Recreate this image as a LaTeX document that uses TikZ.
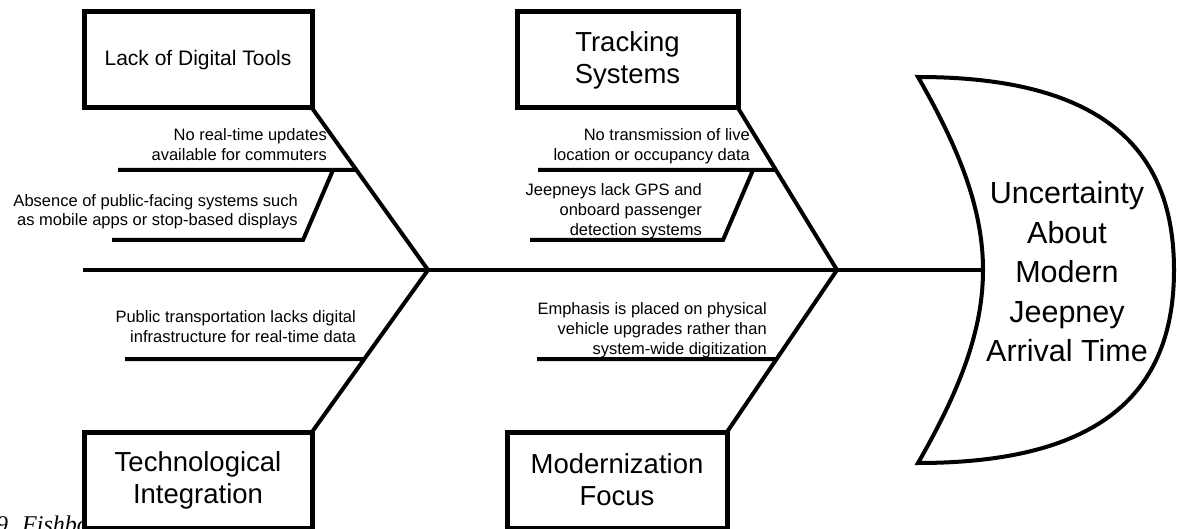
\documentclass[tikz,border=0pt]{standalone}
\usepackage{fontspec}
\setmainfont{Liberation Sans}
\newfontfamily\capfont{Liberation Serif}
\usetikzlibrary{calc}

\begin{document}
\begin{tikzpicture}[x=1pt,y=-1pt,
  causebox/.style={draw, line width=5pt, fill=white, inner sep=0pt, outer sep=0pt,
    minimum height=96pt, align=center, font=\fontsize{27.5}{32}\selectfont},
  bone/.style={line width=4pt},
  note/.style={anchor=base east, inner sep=0pt, font=\fontsize{16.5}{20}\selectfont},
]
\useasboundingbox (0,0) rectangle (1177,529);

% caption fragment peeking out below the diagram
\node[anchor=base west, inner sep=0pt, font=\capfont\itshape\fontsize{24}{28}\selectfont]
  (caption) at (-4,532) {9. Fishbo};

% spine joints and ends
\coordinate (tail) at (83,270);
\coordinate (j1) at (428,270);
\coordinate (j2) at (837,270);
\coordinate (hin) at (983,270);

% cause boxes
\node[causebox, minimum width=228pt, font=\fontsize{21}{25}\selectfont] (digital) at (198,60) {Lack of Digital Tools};
\node[causebox, minimum width=221pt] (tracking) at (627.5,60) {Tracking\\Systems};
\node[causebox, minimum width=228pt] (integration) at (198,480) {Technological\\Integration};
\node[causebox, minimum width=220pt] (modern) at (617,480) {Modernization\\Focus};

% spine and main bones
\draw[bone] (tail) -- (hin);
\draw[bone] (digital.south east) -- (j1) -- (integration.north east);
\draw[bone] (tracking.south east) -- (j2) -- (modern.north east);

% sub-causes: Lack of Digital Tools
\coordinate (d1) at (118,170);
\coordinate (d2s) at (333,170);
\coordinate (d2k) at (303,240);
\coordinate (d2e) at (112,240);
\draw[bone] (d1) -- ($(digital.south east)!0.3827!(j1)$);
\draw[bone] (d2s) -- (d2k) -- (d2e);
\node[note] (d1t) at (327,161) {\begin{tabular}[b]{@{}r@{}}No real-time updates\\available for commuters\end{tabular}};
\node[note] (d2t) at (298,226) {\begin{tabular}[b]{@{}r@{}}Absence of public-facing systems such\\as mobile apps or stop-based displays\end{tabular}};

% sub-causes: Tracking Systems
\coordinate (t1) at (538,170);
\coordinate (t2s) at (753,170);
\coordinate (t2k) at (723,240);
\coordinate (t2e) at (530,240);
\draw[bone] (t1) -- ($(tracking.south east)!0.3827!(j2)$);
\draw[bone] (t2s) -- (t2k) -- (t2e);
\node[note] (t1t) at (750,161) {\begin{tabular}[b]{@{}r@{}}No transmission of live\\location or occupancy data\end{tabular}};
\node[note] (t2t) at (702,236) {\begin{tabular}[b]{@{}r@{}}Jeepneys lack GPS and\\onboard passenger\\detection systems\end{tabular}};

% sub-causes: Technological Integration
\coordinate (i1) at (125,359);
\draw[bone] (i1) -- ($(integration.north east)!0.4506!(j1)$);
\node[note] (i1t) at (356,342) {\begin{tabular}[b]{@{}r@{}}Public transportation lacks digital\\infrastructure for real-time data\end{tabular}};

% sub-causes: Modernization Focus
\coordinate (m1) at (537,359);
\draw[bone] (m1) -- ($(modern.north east)!0.4506!(j2)$);
\node[note] (m1t) at (767,354) {\begin{tabular}[b]{@{}r@{}}Emphasis is placed on physical\\vehicle upgrades rather than\\system-wide digitization\end{tabular}};

% fish head (effect)
\draw[line width=4pt, fill=white]
  (918,77) .. controls (1110,77) and (1174,155) .. (1174,270)
  .. controls (1174,385) and (1110,463) .. (918,463)
  .. controls (960,390) and (983,330) .. (hin)
  .. controls (983,210) and (960,150) .. (918,77) -- cycle;
\node[align=center, inner sep=0pt, font=\fontsize{30.5}{39.5}\selectfont] (effect) at (1067,272)
  {Uncertainty\\About\\Modern\\Jeepney\\Arrival Time};
\end{tikzpicture}
\end{document}
